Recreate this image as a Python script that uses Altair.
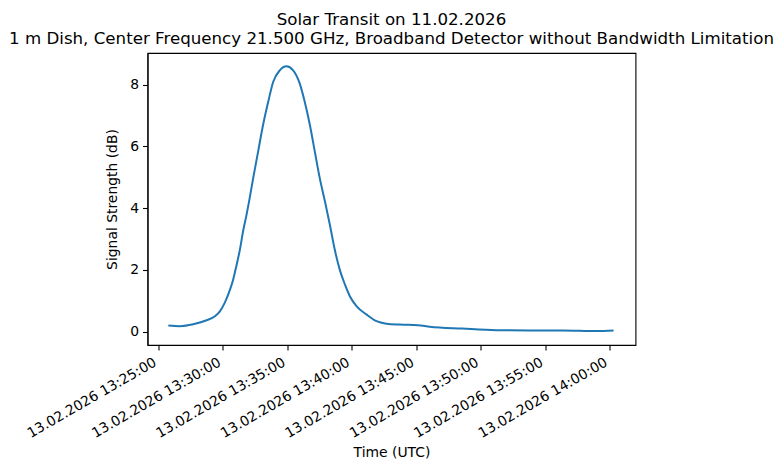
import altair as alt
import pandas as pd

# Measured data (UTC time of day on 13.02.2026, signal strength in dB)
times = [
    "13:25:46", "13:26:40", "13:27:42", "13:28:44", "13:29:23", "13:29:46",
    "13:30:09", "13:30:33", "13:30:48", "13:31:04", "13:31:19", "13:31:34",
    "13:31:50", "13:32:02", "13:32:21", "13:32:44", "13:33:07", "13:33:31",
    "13:33:54", "13:34:25", "13:34:56", "13:35:27", "13:35:58", "13:36:21",
    "13:36:45", "13:37:08", "13:37:31", "13:37:55", "13:38:18", "13:38:41",
    "13:39:04", "13:39:28", "13:39:51", "13:40:22", "13:41:08", "13:41:55",
    "13:42:41", "13:43:43", "13:45:08", "13:46:03", "13:48:36", "13:51:13",
    "13:53:48", "13:56:22", "13:58:58", "14:00:19",
]
values = [
    0.20, 0.18, 0.24, 0.37, 0.50, 0.66,
    0.94, 1.36, 1.69, 2.17, 2.65, 3.25,
    3.78, 4.22, 4.97, 5.83, 6.69, 7.44,
    8.08, 8.46, 8.59, 8.46, 8.03, 7.44,
    6.69, 5.83, 4.97, 4.22, 3.46, 2.65,
    2.01, 1.53, 1.15, 0.83, 0.56, 0.34,
    0.26, 0.23, 0.21, 0.16, 0.10, 0.05,
    0.04, 0.04, 0.02, 0.04,
]
tick_times = ["13:25:00", "13:30:00", "13:35:00", "13:40:00",
              "13:45:00", "13:50:00", "13:55:00", "14:00:00"]
y_ticks = [0, 2, 4, 6, 8]
x_domain_times = ["13:24:09", "14:02:01"]
y_domain = [-0.43, 9.02]

DATE = "2026-02-13"


def ms(t):
    return int(pd.Timestamp(f"{DATE}T{t}Z").value // 10**6)


df = pd.DataFrame({
    "time": [f"{DATE}T{t}Z" for t in times],
    "value": values,
})

FONT = "DejaVu Sans"

line = alt.Chart(df).mark_line(
    color="#1f77b4", strokeWidth=2, clip=True, interpolate="monotone"
).encode(
    x=alt.X(
        "time:T",
        scale=alt.Scale(type="utc", domain=[ms(t) for t in x_domain_times], nice=False),
        axis=alt.Axis(
            title="Time (UTC)",
            values=[ms(t) for t in tick_times],
            format="%d.%m.%Y %H:%M:%S",
            labelAngle=330,
            labelAlign="right",
            labelBaseline="top",
            labelOffset=-7,
            labelPadding=5,
            titleY=111,
            titleBaseline="alphabetic",
        ),
    ),
    y=alt.Y(
        "value:Q",
        scale=alt.Scale(domain=y_domain, nice=False, zero=False),
        axis=alt.Axis(
            title="Signal Strength (dB)",
            values=y_ticks,
            format="d",
            labelPadding=4,
            titleX=-31.5,
            titleBaseline="alphabetic",
        ),
    ),
)

chart = line.properties(
    width=488,
    height=292,
    title=alt.TitleParams(
        text=["Solar Transit on 11.02.2026",
              "1 m Dish, Center Frequency 21.500 GHz, Broadband Detector without Bandwidth Limitation"],
        font=FONT,
        fontSize=16.67,
        fontWeight="normal",
        color="black",
        anchor="middle",
        lineHeight=19.7,
        offset=5,
    ),
    autosize=alt.AutoSizeParams(type="none"),
    padding={"left": 139.5, "top": 45, "right": 138.5, "bottom": 117},
).configure_view(
    stroke="black", strokeWidth=1.1
).configure_axis(
    grid=False,
    labelFont=FONT,
    titleFont=FONT,
    labelFontSize=13.9,
    titleFontSize=13.9,
    titleFontWeight="normal",
    labelColor="black",
    titleColor="black",
    domainColor="black",
    domainWidth=1.1,
    tickColor="black",
    tickWidth=1.1,
    tickSize=5,
    labelFlush=False,
    labelOverlap=False,
)

chart.save("out.html", embed_options={"renderer": "svg", "actions": False})
